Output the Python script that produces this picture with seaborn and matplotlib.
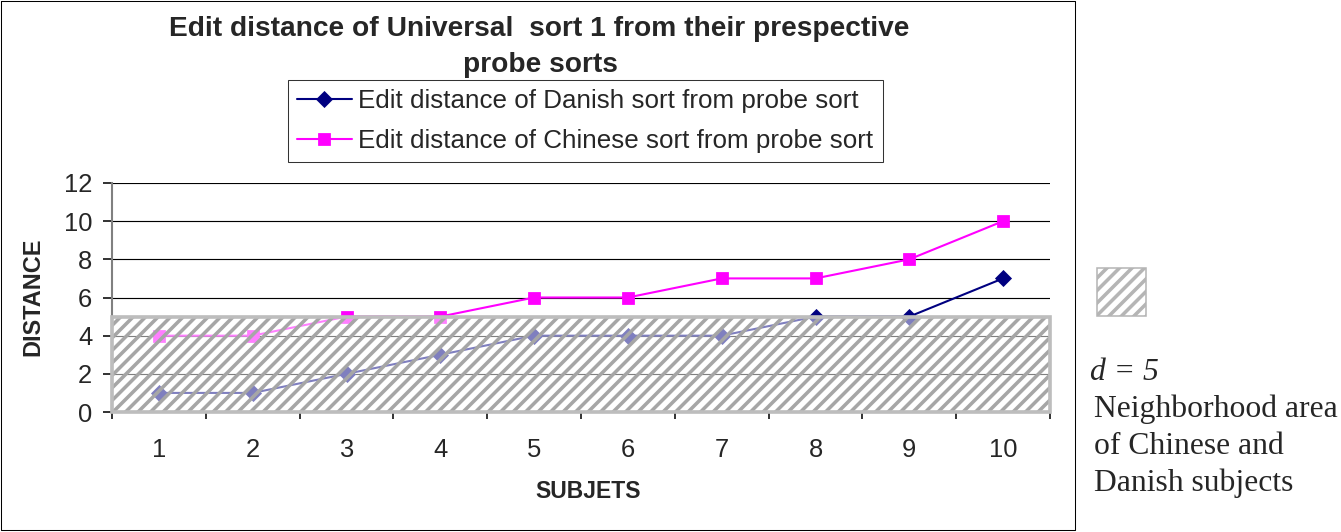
import matplotlib
matplotlib.use("Agg")
import matplotlib.pyplot as plt
from matplotlib.patches import Rectangle
from matplotlib.lines import Line2D
import seaborn as sns
import pandas as pd

subjects = [1, 2, 3, 4, 5, 6, 7, 8, 9, 10]
danish = [1, 1, 2, 3, 4, 4, 4, 5, 5, 7]
chinese = [4, 4, 5, 5, 6, 6, 7, 7, 8, 10]
neighborhood_d = 5
yticks = [0, 2, 4, 6, 8, 10, 12]

title_lines = ["Edit distance of Universal  sort 1 from their prespective", "probe sorts"]
label_danish = "Edit distance of Danish sort from probe sort"
label_chinese = "Edit distance of Chinese sort from probe sort"
note_lines = ["Neighborhood area", "of Chinese and", "Danish subjects"]

sns.set_style("white")
plt.rcParams["font.family"] = ["Liberation Sans", "DejaVu Sans"]
plt.rcParams["hatch.linewidth"] = 3.4

DPI = 75
W, H = 1341, 532
fig = plt.figure(figsize=(W / DPI, H / DPI), dpi=DPI)
fig.patch.set_facecolor("white")

def fx(px):
    return px / W

def fy(py):
    return 1 - py / H

ax = fig.add_axes([fx(112), fy(412), fx(1050) - fx(112), fy(183) - fy(412)])

df = pd.DataFrame({"subject": subjects, "danish": danish, "chinese": chinese})

for yv in yticks[1:]:
    ax.axhline(yv, color="black", lw=1.1, zorder=1)

sns.lineplot(data=df, x="subject", y="danish", ax=ax, color="#000080", marker="D",
             markersize=11, mec="#000080", mfc="#000080", lw=2.0, label=label_danish, zorder=2)
sns.lineplot(data=df, x="subject", y="chinese", ax=ax, color="#FF00FF", marker="s",
             markersize=11, mec="#FF00FF", mfc="#FF00FF", lw=2.0, label=label_chinese, zorder=2)

# hatched neighborhood overlay
ax.axhspan(0, neighborhood_d, facecolor=(1, 1, 1, 0.5), edgecolor="#A6A6A6", hatch="//",
           linewidth=0, zorder=3)
ax.axhspan(0, neighborhood_d, fill=False, edgecolor="#BDBDBD", linewidth=3.5, zorder=4,
           clip_on=False)

ax.set_xlim(0.5, 10.5)
ax.set_ylim(0, 12)
ax.set_yticks(yticks)
ax.set_yticklabels([str(v) for v in yticks])
ax.set_xticks(subjects)
ax.set_xticklabels([str(s) for s in subjects])
ax.set_xticks([s + 0.5 for s in [0] + subjects], minor=True)
ax.tick_params(axis="x", which="major", length=0, pad=25, labelsize=24.5)
ax.tick_params(axis="x", which="minor", length=7, width=1.5, direction="out", color="black", bottom=True)
ax.tick_params(axis="y", which="major", length=9, width=1.5, direction="out", color="black",
               left=True, pad=10, labelsize=24.5)
for s in ["top", "right"]:
    ax.spines[s].set_visible(False)
ax.spines["left"].set_color("#808080")
ax.spines["left"].set_linewidth(2.0)
ax.spines["bottom"].set_color("black")
ax.spines["bottom"].set_linewidth(1.5)
ax.set_xlabel("")
ax.set_ylabel("")

fig.text(fx(33), fy(297), "DISTANCE", rotation=90, ha="center", va="center",
         fontsize=22.5, fontweight="bold")
fig.text(fx(588), fy(492), "SUBJETS", ha="center", va="center", fontsize=22, fontweight="bold")

fig.text(fx(539), fy(29), title_lines[0], ha="center", va="center", fontsize=27, fontweight="bold")
fig.text(fx(540), fy(65), title_lines[1], ha="center", va="center", fontsize=27, fontweight="bold")

leg = ax.legend(loc="upper left", bbox_to_anchor=(fx(288), fy(80)), bbox_transform=fig.transFigure,
                borderaxespad=0, fontsize=25, handlelength=2.1, handletextpad=0.25,
                borderpad=0.35, labelspacing=0.6, frameon=True, fancybox=False)
leg.get_frame().set_edgecolor("black")
leg.get_frame().set_linewidth(1.0)

# right side key
fig.add_artist(Rectangle((fx(1097), fy(316)), fx(1146) - fx(1097), fy(268) - fy(316),
                         transform=fig.transFigure, facecolor="white", edgecolor="#B5B5B5",
                         hatch="//", linewidth=1.5))
fig.text(fx(1090), fy(372), "d = 5", family=["Liberation Serif", "DejaVu Serif"], style="italic",
         fontsize=30.4, ha="left", va="center")
for i, line in enumerate(note_lines):
    fig.text(fx(1094), fy(409 + 37 * i), line, family=["Liberation Serif", "DejaVu Serif"],
             fontsize=30.4, ha="left", va="center")

# outer chart border
fig.add_artist(Line2D([fx(1), fx(1075), fx(1075), fx(1), fx(1)],
                      [fy(1), fy(1), fy(530), fy(530), fy(1)],
                      transform=fig.transFigure, color="black", lw=1.0))

fig.savefig("out.png", dpi=DPI, facecolor="white")
